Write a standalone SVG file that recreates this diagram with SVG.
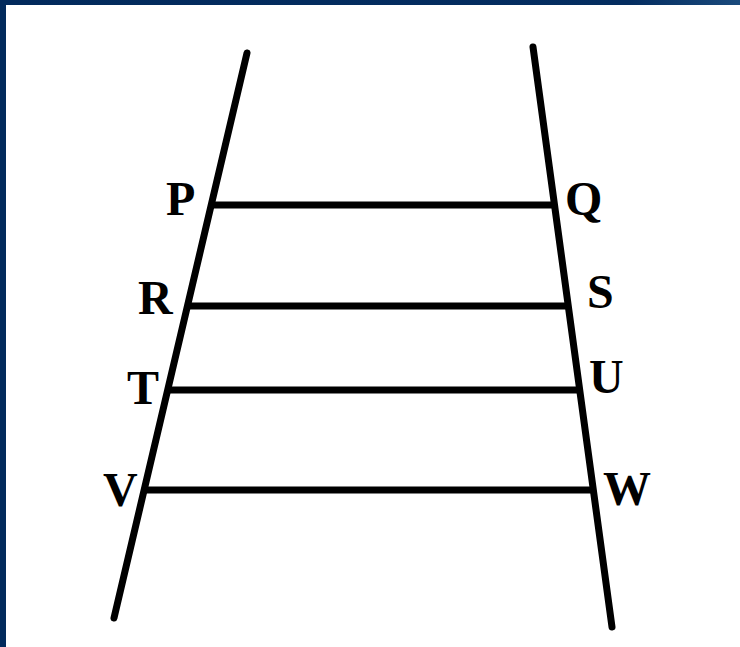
<svg xmlns="http://www.w3.org/2000/svg" width="740" height="647" viewBox="0 0 740 647">
<defs>
<linearGradient id="topg" x1="0" y1="0" x2="1" y2="0">
<stop offset="0" stop-color="#022a5c"/>
<stop offset="0.85" stop-color="#042d60"/>
<stop offset="1" stop-color="#1a4a7c"/>
</linearGradient>
<style>
.ln{stroke:#000;stroke-width:7;stroke-linecap:round;fill:none}
.rg{stroke:#000;stroke-width:7;fill:none}
.lb{font-family:"Liberation Serif","Times New Roman",serif;font-weight:bold;font-size:48px;fill:#000}
</style>
</defs>
<rect x="0" y="0" width="740" height="647" fill="#fff"/>
<rect x="0" y="0" width="740" height="5" fill="url(#topg)"/>
<rect x="0" y="0" width="6" height="647" fill="#022a5c"/>
<g id="connectors">
<line class="ln" x1="247" y1="53" x2="114" y2="618"/>
<line class="ln" x1="533" y1="47" x2="612" y2="627"/>
<line class="rg" x1="211" y1="205" x2="555" y2="205"/>
<line class="rg" x1="187" y1="306" x2="568" y2="306"/>
<line class="rg" x1="168" y1="390" x2="580" y2="390"/>
<line class="rg" x1="144" y1="490" x2="593" y2="490"/>
</g>
<g id="P"><text class="lb" x="166" y="215">P</text></g>
<g id="Q"><text class="lb" x="565" y="215">Q</text></g>
<g id="R"><text class="lb" x="138" y="314">R</text></g>
<g id="S"><text class="lb" x="587" y="308">S</text></g>
<g id="T"><text class="lb" x="127" y="404">T</text></g>
<g id="U"><text class="lb" x="589" y="393">U</text></g>
<g id="V"><text class="lb" x="103" y="506">V</text></g>
<g id="W"><text class="lb" x="603" y="505">W</text></g>
</svg>
